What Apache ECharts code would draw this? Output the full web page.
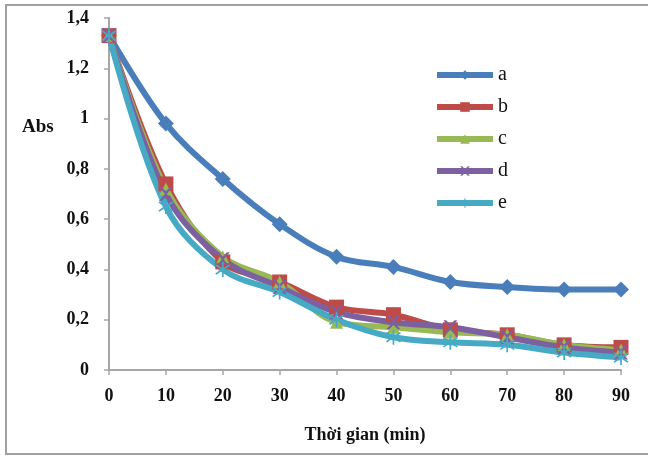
<!DOCTYPE html>
<html>
<head>
<meta charset="utf-8">
<script src="https://cdn.jsdelivr.net/npm/echarts@6/dist/echarts.min.js"></script>
<style>
  html, body { margin: 0; padding: 0; background: #fff; }
  #chart { width: 648px; height: 456px; }
</style>
</head>
<body>
<div id="chart"></div>
<script>
// 数据
var times = [0, 10, 20, 30, 40, 50, 60, 70, 80, 90];
var seriesA = [1.33, 0.98, 0.76, 0.58, 0.45, 0.41, 0.35, 0.33, 0.32, 0.32];
var seriesB = [1.33, 0.74, 0.43, 0.35, 0.25, 0.22, 0.16, 0.14, 0.10, 0.09];
var seriesC = [1.33, 0.72, 0.45, 0.35, 0.19, 0.17, 0.15, 0.14, 0.10, 0.08];
var seriesD = [1.33, 0.70, 0.44, 0.33, 0.23, 0.19, 0.17, 0.13, 0.09, 0.07];
var seriesE = [1.33, 0.65, 0.40, 0.31, 0.20, 0.13, 0.11, 0.10, 0.07, 0.05];
var names = ['a', 'b', 'c', 'd', 'e'];

(function () {
  var myChart = echarts.init(document.getElementById('chart'));
  var serif = '"Liberation Serif", "Times New Roman", serif';
  var xPath = 'path://M0,0 L2,0 L5,3 L8,0 L10,0 L6,4.5 L6,5.5 L10,10 L8,10 L5,7 L2,10 L0,10 L4,5.5 L4,4.5 Z';
  var starPath = 'path://M4.5,0 L5.5,0 L5.5,4 L8.8,1.5 L9.4,2.3 L6.2,5 L9.4,7.7 L8.8,8.5 L5.5,6 L5.5,10 L4.5,10 L4.5,6 L1.2,8.5 L0.6,7.7 L3.8,5 L0.6,2.3 L1.2,1.5 L4.5,4 Z';

  function pairs(arr) {
    return arr.map(function (v, i) { return [times[i], v]; });
  }

  function makeSeries(name, data, color, symbol, size) {
    return {
      name: name,
      type: 'line',
      smooth: 0.35,
      data: pairs(data),
      symbol: symbol,
      symbolSize: size,
      lineStyle: { color: color, width: 6 },
      itemStyle: { color: color },
      emphasis: { disabled: true }
    };
  }

  var axisGray = '#a6a6a6';
  var option = {
    animation: false,
    grid: { left: 109, right: 27, top: 18, bottom: 86 },
    legend: {
      orient: 'vertical',
      left: 429,
      top: 60,
      itemGap: 12,
      itemWidth: 56,
      itemHeight: 12,
      lineStyle: { width: 6 },
      textStyle: { fontFamily: serif, fontSize: 20, color: '#111' },
      data: names
    },
    xAxis: {
      type: 'value',
      min: 0,
      max: 90,
      interval: 10,
      name: 'Thời gian (min)',
      nameLocation: 'middle',
      nameGap: 56,
      nameTextStyle: { fontFamily: serif, fontSize: 18, fontWeight: 'bold', color: '#111' },
      axisLine: { lineStyle: { color: axisGray, width: 2 } },
      axisTick: { show: true, length: 5, lineStyle: { color: axisGray, width: 1.5 } },
      axisLabel: { fontFamily: serif, fontSize: 18, fontWeight: 'bold', color: '#111', margin: 17 },
      splitLine: { show: false }
    },
    yAxis: {
      type: 'value',
      min: 0,
      max: 1.4,
      interval: 0.2,
      axisLine: { show: true, lineStyle: { color: axisGray, width: 2 } },
      axisTick: { show: true, length: 5, lineStyle: { color: axisGray, width: 1.5 } },
      axisLabel: {
        fontFamily: serif, fontSize: 18, fontWeight: 'bold', color: '#111', margin: 20,
        formatter: function (v) { return String(Math.round(v * 10) / 10).replace('.', ','); }
      },
      splitLine: { show: false }
    },
    graphic: [
      {
        type: 'rect',
        shape: { x: 6, y: 5, width: 650, height: 449 },
        style: { fill: 'none', stroke: '#a0a0a0', lineWidth: 2 },
        silent: true
      },
      {
        type: 'text',
        left: 22,
        top: 118,
        style: { text: 'Abs', font: 'bold 19px "Liberation Serif", serif', fill: '#111' }
      }
    ],
    series: [
      makeSeries('a', seriesA, '#4a7ebb', 'diamond', 16),
      makeSeries('b', seriesB, '#be4b48', 'rect', 15),
      makeSeries('c', seriesC, '#98b954', 'triangle', 13),
      makeSeries('d', seriesD, '#7d60a0', xPath, 14),
      makeSeries('e', seriesE, '#46aac5', starPath, 15)
    ]
  };

  myChart.setOption(option);
})();
</script>
</body>
</html>
